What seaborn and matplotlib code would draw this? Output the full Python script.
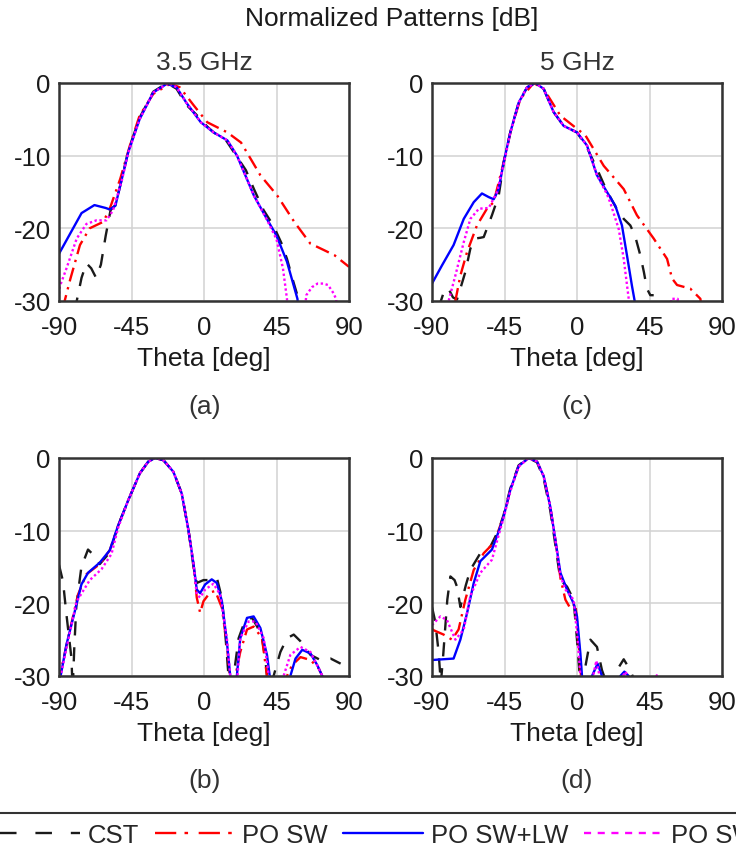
import pandas as pd
import seaborn as sns
import matplotlib.pyplot as plt
from matplotlib.lines import Line2D

# digitised cuts: theta [deg] and normalised level [dB]
# points below the -30 dB floor are put at -35 so the curve leaves the axes

# (a) 3.5 GHz, first cut
A_CST_TH = [-82, -79, -76, -73, -70, -67, -64, -61, -58, -55, -51, -47, -40, -31.5, -23, -17, -11, -5, -2.5, 2,
            6, 14, 20, 26, 31, 37, 43, 48, 51.5, 55, 58.6, 61]
A_CST_DB = [-35, -30, -26.8, -24.8, -25.5, -26.8, -25, -21, -17.5, -16.8, -13.2, -9.3, -4.8, -1.2, 0, -0.8, -3, -4.3,
            -4.9, -6, -6.8, -8, -10, -12, -14.6, -17.5, -19.6, -22, -24.2, -27, -29.7, -35]
A_SW_TH = [-88, -86.5, -83, -77, -71, -62.5, -58.5, -52, -46, -40, -31.5, -21, -15, -6.3, 2, 14.5, 23, 35, 45.5, 56,
           66, 74.5, 81, 90]
A_SW_DB = [-35, -30, -27, -22.3, -20, -19.1, -17.3, -13.2, -8.6, -4.5, -1.5, -0.1, -0.6, -3.1, -5.4, -6.8, -8.2,
           -12.7, -15.5, -19.1, -22.1, -23, -23.7, -25.3]
A_LW_TH = [-90, -76, -68, -61, -58.5, -55, -51, -47, -40, -31.5, -23, -17, -11, -2, 6, 14.5, 20.5, 31, 39, 45, 51.5,
           58, 60]
A_LW_DB = [-23.5, -17.9, -16.8, -17.2, -17.4, -16.9, -13.2, -9.5, -5, -1.3, -0.1, -0.6, -2.7, -5.4, -6.8, -7.9, -10,
           -15.5, -18.7, -21, -24.6, -29.7, -35]
A_X_TH = [-90, -89.5, -85.5, -79, -73, -66.8, -60.5, -56.4, -51, -47, -40, -31.5, -22, -17, -11, -2, 6, 14.5, 20.5,
          31, 39, 45, 49, 51.5, 53, 61, 63.5, 67, 70.5, 74, 77, 80, 82, 84]
A_X_DB = [-29, -28, -25.6, -21.4, -19.4, -18.9, -18.9, -17.5, -13.4, -9.6, -5, -1.3, 0, -0.6, -2.7, -5.4, -6.8, -7.9,
          -10, -15.5, -18.8, -21.5, -25.5, -29.7, -35, -35, -29.2, -28.1, -27.6, -27.6, -27.8, -28.8, -29.7, -35]

# (c) 5 GHz, first cut
C_CST_TH = [-86, -83, -80, -77, -74.5, -72, -69.3, -66.2, -63.1, -60, -57.9, -55, -52.8, -48.6, -45.5, -41.4, -36.2,
            -31, -25.9, -20.7, -14.5, -8.3, 0, 6, 12.4, 18, 24.8, 29, 33.1, 36, 39.3, 41.5, 43.4, 45.5, 47.6]
C_CST_DB = [-31, -29, -28.2, -29.5, -29.8, -28, -26, -22.8, -21.4, -21.3, -21.2, -19.5, -18.2, -15.5, -11, -6.8, -2.7,
            -0.6, 0, -0.8, -4, -5.9, -6.8, -8.8, -11.8, -14.6, -17.4, -18.7, -19.6, -21, -23.7, -26, -28.3, -29.2,
            -29.2]
C_SW_TH = [-78, -75.5, -72.4, -68.3, -62.1, -55.9, -51.7, -46.5, -41.4, -35.2, -26.9, -20.7, -10.3, 0, 5.2, 16.6, 29,
           37.2, 47.6, 55.9, 59, 62.1, 70.3, 76.6, 78]
C_SW_DB = [-34, -30, -26.5, -23.3, -19.6, -17.3, -16.4, -11.8, -6.8, -2.2, 0, -0.8, -4.5, -6.3, -7.2, -11.4, -14.6,
           -18.2, -21.4, -24.2, -26.9, -27.8, -28.3, -29.7, -33]
C_LW_TH = [-90, -83.8, -76.6, -70.3, -64.1, -59, -54.8, -51.7, -48.6, -45.5, -41.4, -36.2, -31, -25.9, -20.7, -14.5,
           -8.3, 0, 6.2, 12.4, 18.6, 23.8, 27.9, 31, 34.1, 35.8, 37]
C_LW_DB = [-27.6, -25.1, -22.3, -18.7, -16.4, -15.2, -15.7, -16, -14.6, -10.9, -6.8, -2.7, -0.6, 0, -0.8, -4, -5.9,
           -6.8, -8.6, -12.7, -15, -16.9, -19.6, -23.7, -27.9, -30, -34]
C_X_TH = [-82, -79.7, -75.5, -70.3, -66.2, -60.9, -54.8, -49.6, -45.5, -41.4, -36.2, -31, -25.9, -20.7, -14.5, -8.3,
          0, 6.2, 12.4, 18.6, 20.7, 25.9, 29, 32.1, 33.5, 57, 58.5, 62.5, 64]
C_X_DB = [-34, -30, -26.5, -21.9, -18.7, -17.3, -17.2, -15, -11.2, -6.9, -2.7, -0.6, 0, -0.8, -4, -5.9, -6.8, -8.6,
          -12.7, -15.3, -16.5, -20.1, -24.2, -29.7, -34, -34, -29.7, -29.7, -34]

# (b) 3.5 GHz, second cut
B_CST_TH = [-90, -87.5, -85.4, -82.3, -81.5, -80.5, -79.2, -76.1, -72, -67.8, -64.7, -58.5, -53.3, -47, -39.8, -34.6,
            -30.4, -25.2, -19, -13.8, -9.6, -6.5, -4.5, -0.3, 3.8, 8, 11.1, 13.5, 15.2, 16.5, 17.5, 18.4, 21.5, 25.6,
            29.8, 33, 36, 38, 39.1, 40.5, 42, 43.2, 47.4, 51.5, 55.7, 59.8, 66.1, 72.3, 78.6, 84.8]
B_CST_DB = [-14.7, -17, -21.5, -27.5, -32, -26, -20.2, -15, -12.6, -13.5, -14.6, -13, -9.3, -5.8, -2.1, -0.5, 0, -0.3,
            -1.9, -4.9, -10, -15, -17.2, -16.8, -16.8, -16.5, -19.3, -25, -30, -35, -35, -30, -24.8, -22.3, -22,
            -23.2, -24.8, -27.5, -30, -35, -35, -30, -26.7, -24.8, -24.3, -25.2, -27.1, -27.8, -27.6, -28.3]
B_SW_TH = [-91, -89.5, -84.4, -78.2, -73, -64.7, -58.5, -53.3, -47, -39.8, -34.6, -30.4, -25.2, -19, -13.8, -9.6,
           -6.5, -4.5, -2.4, -0.3, 3.8, 7, 11.1, 14.2, 16, 17.5, 18.5, 19.5, 22.5, 26.7, 30.8, 36, 39.1, 40.5, 50,
           51.5, 54.7, 59.9, 66.1, 71.3, 73.4, 75]
B_SW_DB = [-35, -30, -24.8, -18.8, -16, -14.6, -12.7, -9.3, -5.8, -2.1, -0.5, 0, -0.3, -1.9, -4.9, -10, -14.6, -19.2,
           -21.3, -19.7, -18.5, -18.3, -20.6, -25.7, -30, -35, -35, -30, -26.7, -23.6, -23.2, -24.8, -30, -35, -35,
           -30, -28.5, -27.4, -27.8, -29, -30, -35]
B_LW_TH = [-91, -89, -85.4, -80.2, -76.1, -72, -64.7, -58.5, -53.3, -47, -39.8, -34.6, -30.4, -25.2, -19, -13.8,
           -9.6, -6.5, -4.5, -2.4, 0.7, 4.8, 8, 11.1, 14.2, 16.3, 17.5, 19.5, 20.4, 22.5, 26.7, 30.8, 35, 39.1, 40.8,
           42, 52, 53.6, 56.8, 61, 66.1, 70.3, 73.4, 75]
B_LW_DB = [-35, -30, -25.7, -21.1, -17.4, -15.8, -14.4, -12.7, -9.3, -5.8, -2.1, -0.5, 0, -0.3, -1.9, -4.9, -10,
           -14.6, -18.1, -18.6, -17.4, -16.7, -17.2, -19.7, -25.3, -30, -35, -35, -30, -24.8, -22, -21.8, -23.4,
           -27.1, -30, -35, -35, -30, -27.6, -26.4, -26.9, -28.5, -30, -35]
B_X_TH = [-91, -89, -79.2, -70.9, -63.6, -57.4, -53.3, -47, -39.8, -34.6, -30.4, -25.2, -19, -13.8, -9.6, -6.5, -4.5,
          -2.4, 0.7, 5.9, 10, 14.2, 16.3, 17.5, 19.5, 20.8, 22.5, 27.7, 31.9, 37.1, 40.2, 41.5, 48, 49.4, 53.6, 59.9,
          66.1, 71.3, 73.4, 75]
B_X_DB = [-35, -30, -19.8, -16.8, -15.3, -13.2, -9.6, -5.8, -2.1, -0.5, 0, -0.3, -1.9, -4.9, -10, -14.6, -18.8,
          -19.2, -18.1, -17.3, -18.8, -24.8, -30, -35, -35, -30, -24.8, -22.5, -22.5, -24.8, -30, -35, -35, -30,
          -27.1, -26, -26.7, -29, -30, -35]

# (d) 5 GHz, second cut
D_CST_TH = [-90, -88, -86, -84.5, -83, -80.5, -78.6, -76, -74.5, -72.4, -69, -66.2, -60, -53.8, -48.6, -45.5, -41.4,
            -36.2, -30, -24.8, -20.7, -16.6, -13.4, -10.3, -6.2, -2.1, 0, 1.7, 2.5, 3.5, 4.1, 8.3, 12.4, 15.5, 16.8,
            18, 21.5, 22.5, 29, 33.1, 34.5, 36]
D_CST_DB = [-20.5, -22.5, -26.5, -31, -27, -19.5, -16.3, -16.8, -17.7, -20.5, -17.5, -15.4, -13.1, -12.2, -9.9, -7.8,
            -4.2, -1, 0, -0.6, -2.8, -7.2, -12, -16.8, -17.7, -19.5, -25, -30, -35, -35, -30, -25, -26, -29.2, -30,
            -35, -35, -30, -27.7, -29.2, -30, -35]
D_SW_TH = [-90, -89, -82.8, -77.6, -73.5, -69.3, -64.1, -57.9, -51.7, -48.6, -45.5, -41.4, -36.2, -30, -24.8, -20.7,
           -16.6, -13.4, -10.3, -7.2, -4.1, -1, 1, 2.5, 3.5]
D_SW_DB = [-23.5, -23.7, -24.3, -25, -23.6, -19.5, -15.4, -13.1, -11.7, -9.9, -8, -4.4, -1.1, 0, -0.5, -2.5, -6.7,
           -11.3, -16.5, -19.5, -20.7, -20, -25, -30, -35]
D_LW_TH = [-90, -76.6, -72.4, -68.3, -64.1, -60, -52.8, -48.6, -45.5, -41.4, -36.2, -30, -24.8, -20.7, -16.6, -13.4,
           -10.3, -6.2, -2.1, 0, 2.1, 3.1, 4, 8.5, 9.3, 12.8, 15.5, 16.5, 26, 26.9, 29.4, 32.1, 33]
D_LW_DB = [-27.8, -27.6, -25, -21.4, -17.2, -14.2, -12.6, -10.1, -8, -4.4, -1.1, 0, -0.5, -2.5, -6.7, -11.3, -15.8,
           -18.1, -20, -21.8, -26.9, -30, -35, -35, -30, -28.3, -30, -35, -35, -30, -29.4, -30, -35]
D_X_TH = [-90, -84.8, -80.7, -75.5, -70.3, -66.2, -60, -52.8, -48.6, -45.5, -41.4, -36.2, -30, -24.8, -20.7, -16.6,
          -13.4, -10.3, -7.2, -2.1, 0.4, 2.1, 3, 9, 10, 12, 14, 15, 28, 28.5, 30, 31.5, 32, 48.5, 49.5, 50.5]
D_X_DB = [-23, -21.8, -22.3, -25, -23.6, -19, -15.8, -14, -10.6, -8.2, -4.6, -1.2, 0, -0.5, -2.5, -6.7, -11.3, -16.2,
          -18.1, -19.5, -25, -30, -35, -35, -30, -27.9, -30, -35, -35, -30, -29.4, -30, -35, -35, -29.9, -35]

SERIES_NAMES = ['CST', 'PO SW', 'PO SW+LW', 'PO SW+LW+DW']
X_TICKS = [-90, -45, 0, 45, 90]
Y_TICKS = [0, -10, -20, -30]

# line styles, one per series (dash lengths in units of line width):
# colour, style in the panels, style in the legend
STYLES = {
    'CST': ('#1a1a1a', (0, (6, 5)), (0, (7, 8))),
    'PO SW': ('#ff0000', (0, (6, 2.5, 1, 2.5)), (0, (9, 3.5, 1.5, 4.5))),
    'PO SW+LW': ('#0000ff', '-', '-'),
    'PO SW+LW+DW': ('#ff00ff', (0, (1, 1.1)), (0, (3, 2.8))),
}

PANELS = {
    'a': [(A_CST_TH, A_CST_DB), (A_SW_TH, A_SW_DB), (A_LW_TH, A_LW_DB), (A_X_TH, A_X_DB)],
    'c': [(C_CST_TH, C_CST_DB), (C_SW_TH, C_SW_DB), (C_LW_TH, C_LW_DB), (C_X_TH, C_X_DB)],
    'b': [(B_CST_TH, B_CST_DB), (B_SW_TH, B_SW_DB), (B_LW_TH, B_LW_DB), (B_X_TH, B_X_DB)],
    'd': [(D_CST_TH, D_CST_DB), (D_SW_TH, D_SW_DB), (D_LW_TH, D_LW_DB), (D_X_TH, D_X_DB)],
}

W, H = 736, 854
FS = 18.5
LW = 1.7


def _frame(curves):
    # long table for one panel
    parts = []
    for name, (th, db) in zip(SERIES_NAMES, curves):
        parts.append(pd.DataFrame({'theta': th, 'db': db, 'series': name}))
    return pd.concat(parts, ignore_index=True)


def _panel(fig, rect, key):
    left, top = rect
    ax = fig.add_axes([left / W, 1 - (top + 218) / H, 290 / W, 218 / H])
    df = _frame(PANELS[key])
    for name in SERIES_NAMES:
        color, ls, _ = STYLES[name]
        sns.lineplot(data=df[df['series'] == name], x='theta', y='db', ax=ax,
                     color=color, linestyle=ls, linewidth=LW,
                     estimator=None, sort=False, legend=False)

    ax.set_xlim(-90, 90)
    ax.set_ylim(-30, 0)
    ax.set_xticks(X_TICKS)
    ax.set_yticks(Y_TICKS)
    ax.set_xticklabels([str(t) for t in X_TICKS])
    ax.set_yticklabels([str(t) for t in Y_TICKS])
    ax.tick_params(length=0, labelsize=FS, colors='#1a1a1a')
    ax.tick_params(axis='x', pad=10)
    ax.tick_params(axis='y', pad=6)
    ax.grid(True, color='#d2d2d2', linewidth=1.1)
    for sp in ax.spines.values():
        sp.set_visible(True)
        sp.set_color('#333333')
        sp.set_linewidth(1.8)
    ax.set_xlabel('Theta [deg]', fontsize=FS + 0.5, labelpad=5, color='#1a1a1a')
    ax.set_ylabel('')
    return ax


def main():
    sns.set_theme(style='whitegrid')
    plt.rcParams['font.family'] = ['Liberation Sans', 'DejaVu Sans']
    plt.rcParams['axes.unicode_minus'] = False

    fig = plt.figure(figsize=(W / 100, H / 100), dpi=100)

    ax_a = _panel(fig, (59, 84), 'a')
    ax_c = _panel(fig, (432, 84), 'c')
    _panel(fig, (59, 459), 'b')
    _panel(fig, (432, 459), 'd')

    ax_a.set_title('3.5 GHz', fontsize=FS + 0.5, pad=10, color='#333333')
    ax_c.set_title('5 GHz', fontsize=FS + 0.5, pad=10, color='#333333')

    fig.text(392 / W, 1 - 19 / H, 'Normalized Patterns [dB]', ha='center', va='center',
             fontsize=FS + 0.5, color='#1a1a1a')
    for label, x, y in [('(a)', 205, 407), ('(c)', 577, 407), ('(b)', 205, 781), ('(d)', 577, 781)]:
        fig.text(x / W, 1 - y / H, label, ha='center', va='center', fontsize=FS + 0.5, color='#333333')

    # legend keys use longer dashes than the curves, like the source figure;
    # the box runs past both figure edges
    handles = [Line2D([], [], color=STYLES[n][0], linestyle=STYLES[n][2], linewidth=LW)
               for n in SERIES_NAMES]
    leg = fig.legend(handles, SERIES_NAMES, loc='upper left', bbox_to_anchor=(-10 / W, 1 - 814 / H),
                     ncol=4, fontsize=FS, frameon=True, fancybox=False, framealpha=1,
                     handlelength=3.1, handletextpad=0.31, columnspacing=0.6,
                     borderpad=0.4, borderaxespad=0)
    leg.get_frame().set_edgecolor('#333333')
    leg.get_frame().set_linewidth(1.5)

    fig.savefig('out.png', dpi=100)
    plt.close(fig)


if __name__ == '__main__':
    main()
